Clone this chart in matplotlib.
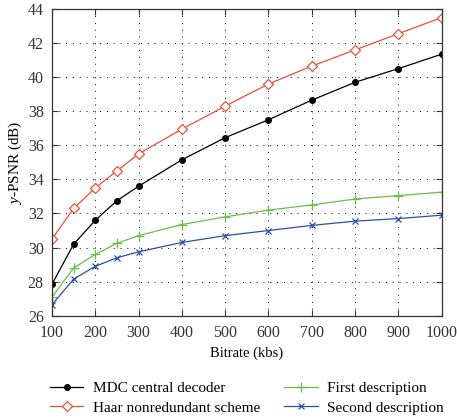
import numpy as np
import matplotlib
matplotlib.use('Agg')
import matplotlib.pyplot as plt

plt.rcParams['font.family'] = ['Liberation Serif', 'DejaVu Serif']
plt.rcParams['mathtext.fontset'] = 'custom'
plt.rcParams['mathtext.it'] = 'Liberation Serif:italic'
plt.rcParams['mathtext.rm'] = 'Liberation Serif'

# bitrate in kbs
bitrate = [100, 150, 200, 250, 300, 400, 500, 600, 700, 800, 900, 1000]

# y-PSNR in dB
mdc_central = [27.85, 30.2, 31.6, 32.75, 33.6, 35.15, 36.45, 37.5, 38.65, 39.7, 40.5, 41.35]
haar_nonred = [30.5, 32.3, 33.5, 34.5, 35.5, 36.95, 38.3, 39.6, 40.65, 41.6, 42.55, 43.5]
first_desc = [27.1, 28.8, 29.6, 30.25, 30.7, 31.35, 31.8, 32.2, 32.5, 32.85, 33.05, 33.25]
second_desc = [26.65, 28.15, 28.9, 29.4, 29.75, 30.3, 30.7, 31.0, 31.3, 31.55, 31.7, 31.9]

xticks = [100, 200, 300, 400, 500, 600, 700, 800, 900, 1000]
yticks = [26, 28, 30, 32, 34, 36, 38, 40, 42, 44]

fig = plt.figure(figsize=(4.57, 4.18), dpi=100)
ax = fig.add_axes([0.1138, 0.2447, 0.8527, 0.7338])

ax.plot(bitrate, mdc_central, '-o', color='black', lw=0.9, ms=4,
        label='MDC central decoder')
ax.plot(bitrate, haar_nonred, '-D', color='#e8503a', lw=0.9, ms=5.5,
        mfc='white', mew=0.9, label='Haar nonredundant scheme')
ax.plot(bitrate, first_desc, '-+', color='#6abf4b', lw=0.9, ms=7,
        mew=0.9, label='First description')
ax.plot(bitrate, second_desc, '-x', color='#2b4fa8', lw=0.9, ms=4.5,
        mew=0.9, label='Second description')

ax.set_xlim(100, 1000)
ax.set_ylim(26, 44)
ax.set_xticks(xticks)
ax.set_yticks(yticks)
ax.grid(True, color='black', linestyle=(0, (1, 6)), lw=0.7)
ax.tick_params(direction='in', top=True, right=True, length=4,
               labelsize=11.5, colors='#333333')
ax.tick_params(axis='x', pad=7)
ax.tick_params(axis='y', pad=6)
for s in ax.spines.values():
    s.set_linewidth(0.9)
    s.set_color('#333333')

ax.set_xlabel('Bitrate (kbs)', fontsize=10.5, labelpad=4)
ax.set_ylabel('$y$-PSNR (dB)', fontsize=11, labelpad=3)

fig.legend(loc='lower center', bbox_to_anchor=(0.54, -0.025), ncol=2,
           frameon=False, fontsize=11, handlelength=2.2,
           columnspacing=1.6, labelspacing=0.4, handletextpad=0.6)

fig.savefig('out.png', dpi=100)
